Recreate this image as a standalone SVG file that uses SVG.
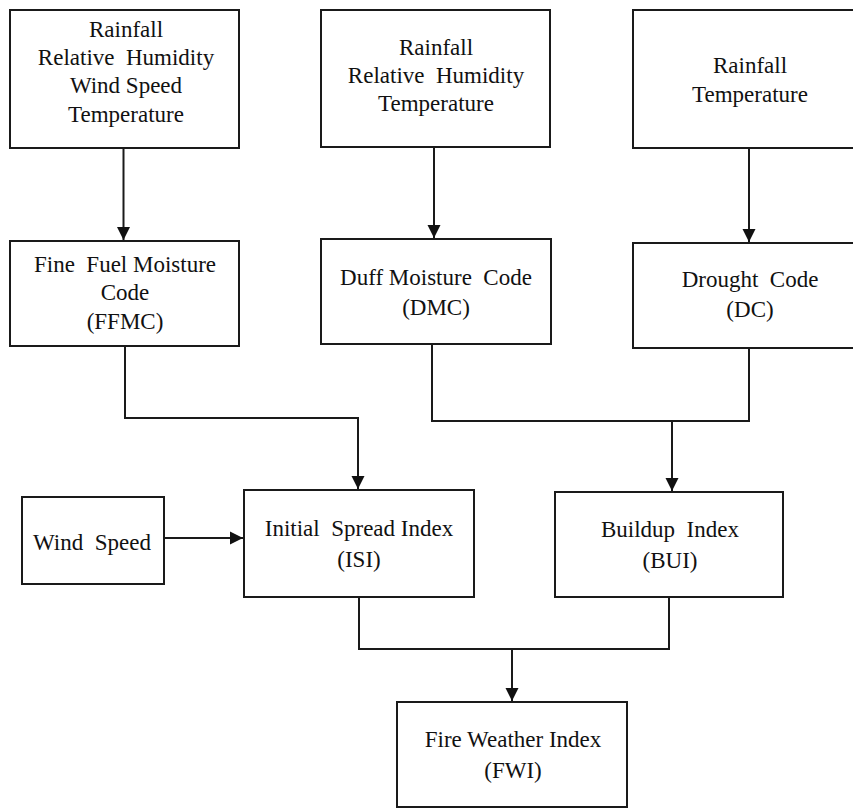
<svg xmlns="http://www.w3.org/2000/svg" width="853" height="810" viewBox="0 0 853 810">
<defs>
<style>
.box{fill:#fff;stroke:#1a1a1a;stroke-width:2}
.t{font-family:"Liberation Serif","Times New Roman",serif;font-size:23px;fill:#111;text-anchor:middle;white-space:pre}
.c{fill:none;stroke:#1a1a1a;stroke-width:2}
</style>
<marker id="ah" markerUnits="userSpaceOnUse" markerWidth="14" markerHeight="14" refX="13" refY="7" orient="auto">
<path d="M0,0.5 L13,7 L0,13.5 z" fill="#111"/>
</marker>
</defs>
<rect width="853" height="810" fill="#fff"/>
<g id="connectors">
<line class="c" x1="123.5" y1="148" x2="123.5" y2="240" marker-end="url(#ah)"/>
<line class="c" x1="434" y1="147" x2="434" y2="238" marker-end="url(#ah)"/>
<line class="c" x1="749" y1="148" x2="749" y2="242" marker-end="url(#ah)"/>
<polyline class="c" points="125,346 125,418 358,418 358,489" marker-end="url(#ah)"/>
<polyline class="c" points="432,344 432,421 749,421 749,348"/>
<line class="c" x1="672" y1="421" x2="672" y2="491" marker-end="url(#ah)"/>
<line class="c" x1="164" y1="538" x2="243" y2="538" marker-end="url(#ah)"/>
<polyline class="c" points="359,597 359,649 669,649 669,597"/>
<line class="c" x1="512" y1="649" x2="512" y2="701" marker-end="url(#ah)"/>
</g>
<g id="inputs1">
<rect class="box" x="10" y="10" width="229" height="138"/>
<text class="t" x="126" y="37">Rainfall</text>
<text class="t" x="126" y="65">Relative  Humidity</text>
<text class="t" x="126" y="93">Wind Speed</text>
<text class="t" x="126" y="122">Temperature</text>
</g>
<g id="inputs2">
<rect class="box" x="321" y="10" width="229" height="137"/>
<text class="t" x="436" y="55">Rainfall</text>
<text class="t" x="436" y="83">Relative  Humidity</text>
<text class="t" x="436" y="111">Temperature</text>
</g>
<g id="inputs3">
<rect class="box" x="633" y="10" width="232" height="138"/>
<text class="t" x="750" y="73">Rainfall</text>
<text class="t" x="750" y="102">Temperature</text>
</g>
<g id="ffmc">
<rect class="box" x="10" y="241" width="229" height="105"/>
<text class="t" x="125" y="272">Fine  Fuel Moisture</text>
<text class="t" x="125" y="300">Code</text>
<text class="t" x="125" y="329">(FFMC)</text>
</g>
<g id="dmc">
<rect class="box" x="321" y="239" width="230" height="105"/>
<text class="t" x="436" y="285">Duff Moisture  Code</text>
<text class="t" x="436" y="315">(DMC)</text>
</g>
<g id="dc">
<rect class="box" x="633" y="243" width="232" height="105"/>
<text class="t" x="750" y="287">Drought  Code</text>
<text class="t" x="750" y="317">(DC)</text>
</g>
<g id="wind">
<rect class="box" x="22" y="497" width="142" height="87"/>
<text class="t" x="92" y="550">Wind  Speed</text>
</g>
<g id="isi">
<rect class="box" x="244" y="490" width="230" height="107"/>
<text class="t" x="359" y="536">Initial  Spread Index</text>
<text class="t" x="359" y="567">(ISI)</text>
</g>
<g id="bui">
<rect class="box" x="555" y="492" width="228" height="105"/>
<text class="t" x="670" y="537">Buildup  Index</text>
<text class="t" x="670" y="568">(BUI)</text>
</g>
<g id="fwi">
<rect class="box" x="397" y="702" width="230" height="105"/>
<text class="t" x="513" y="747">Fire Weather Index</text>
<text class="t" x="513" y="778">(FWI)</text>
</g>
</svg>
